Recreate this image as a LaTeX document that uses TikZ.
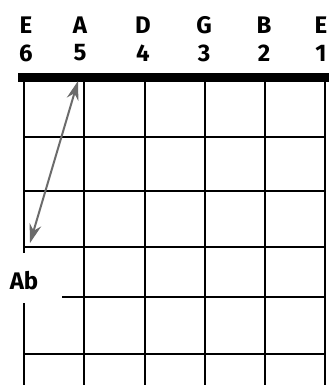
\documentclass[tikz,border=0pt]{standalone}
\usepackage{fontspec}
\setmainfont{Fira Sans}
\usetikzlibrary{arrows.meta}
\tikzset{
  fretline/.style={line width=2.9pt},
  stringlbl/.style={font=\fontsize{24}{24}\selectfont\bfseries, inner sep=0pt},
  interval/.style={{Stealth[length=19pt,width=12pt]}-{Stealth[length=19pt,width=12pt]}, line width=2pt, draw=black!58, fill=black!58}
}
\begin{document}
\begin{tikzpicture}[x=1pt, y=-1pt]
\useasboundingbox (0,0) rectangle (329,385);
% strings 5 to 1
\foreach \sx in {84,145,205,265,325}
  \draw[fretline] (\sx,78) -- (\sx,385);
% string 6, broken for the label
\draw[fretline] (24,78) -- (24,253);
\draw[fretline] (24,303) -- (24,385);
% frets
\foreach \fy in {137,191,247,354}
  \draw[fretline] (24,\fy) -- (325,\fy);
\draw[fretline] (62,297) -- (325,297);
% nut
\fill (18,73) rectangle (329,82);
% string names
\foreach \sx/\nm/\no in {26/E/6, 80/A/5, 143/D/4, 204/G/3, 264/B/2, 321/E/1} {
  \node[stringlbl] (nm\no) at (\sx,25) {\nm};
  \node[stringlbl] (no\no) at (\sx,53) {\no};
}
\node[stringlbl] (ab) at (24,281) {Ab};
% interval arrow
\coordinate (top) at (78,81);
\coordinate (bot) at (30,243);
\draw[interval] (bot) -- (top);
\end{tikzpicture}
\end{document}
